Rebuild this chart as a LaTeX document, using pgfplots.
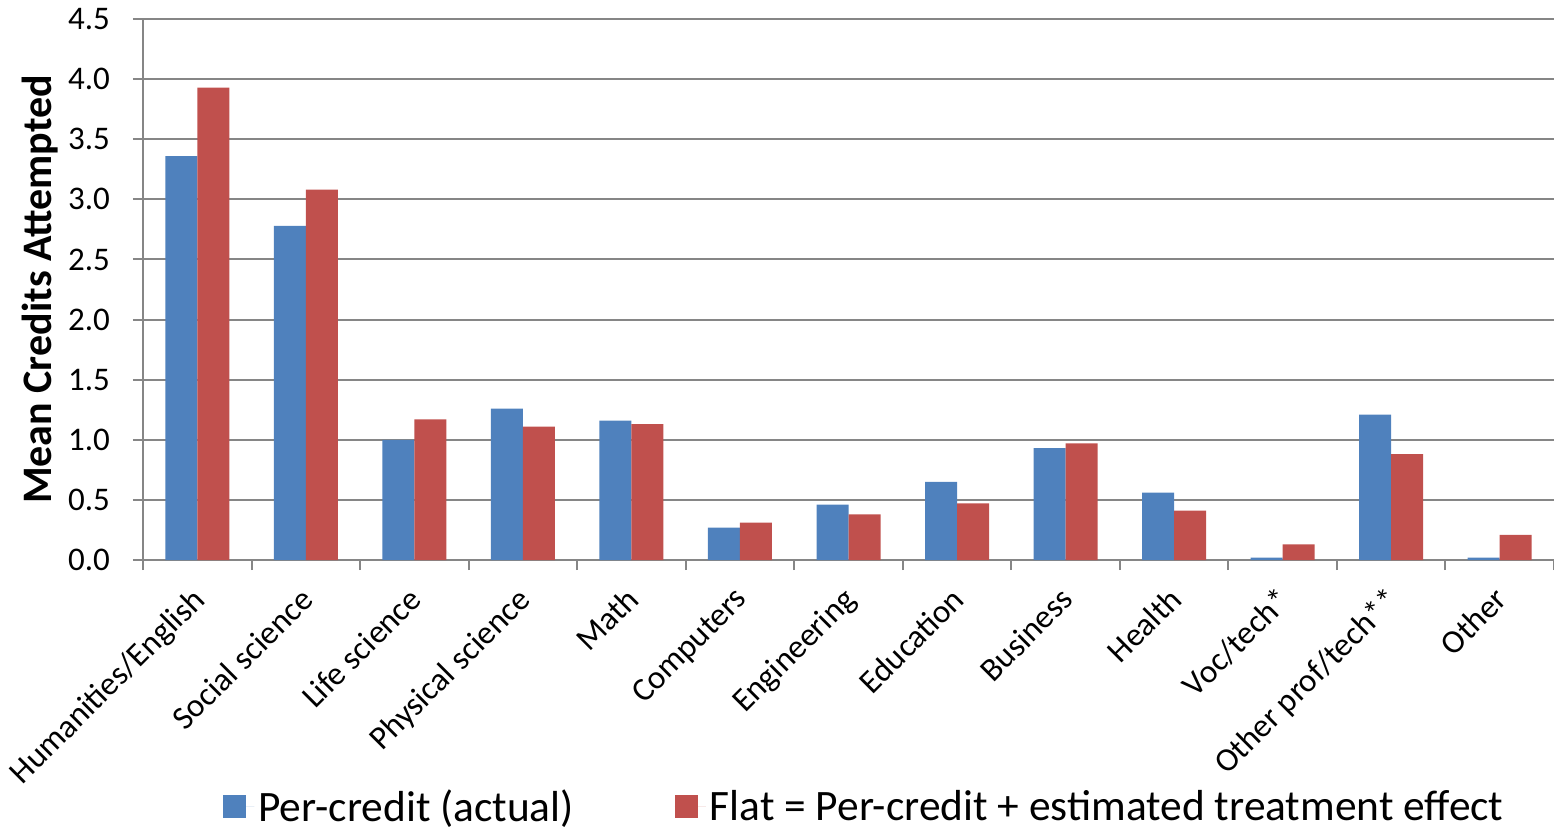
\documentclass[border=0pt]{standalone}
\usepackage{fontspec}
\setmainfont{Carlito}
\usepackage{pgfplots}
\pgfplotsset{compat=1.18}

\definecolor{percredit}{HTML}{4F81BD}
\definecolor{flat}{HTML}{C0504D}
\definecolor{gridgray}{RGB}{134,134,134}

\begin{document}
\begin{tikzpicture}
\begin{axis}[
  scale only axis,
  width=705.5pt, height=270.5pt,
  xmin=-0.5, xmax=12.5,
  ymin=0, ymax=4.5,
  ybar=0pt, bar width=16pt,
  axis x line*=bottom, axis y line*=left,
  axis line style={gridgray, line width=1pt},
  tick style={gridgray, line width=1pt},
  tick align=outside,
  major tick length=5pt,
  ymajorgrids,
  grid style={gridgray, line width=1pt},
  ytick={0,0.5,...,4.5},
  yticklabel style={/pgf/number format/fixed, /pgf/number format/fixed zerofill,
    /pgf/number format/precision=1, font=\fontsize{16.5}{18}\selectfont, xshift=-8pt},
  /pgf/number format/assume math mode=true,
  xtick={-0.5,0.5,1.5,2.5,3.5,4.5,5.5,6.5,7.5,8.5,9.5,10.5,11.5,12.5},
  x tick label as interval,
  xticklabels={Humanities/English, Social science, Life science, Physical science,
    Math, Computers, Engineering, Education, Business, Health, Voc/tech*,
    Other prof/tech**, Other},
  xticklabel style={xshift=-3.5pt, yshift=-7.5pt, rotate=45, anchor=north east,
    inner sep=0pt, font=\fontsize{16.5}{18}\selectfont},
  ylabel={\bfseries Mean Credits Attempted},
  ylabel style={font=\fontsize{21}{24}\selectfont, at={(axis description cs:-0.073,0.5)}, anchor=center},
  legend columns=2,
  legend style={at={(axis description cs:0.512,-0.456)}, anchor=center, draw=none,
    font=\fontsize{21.7}{24}\selectfont,
    /tikz/every even column/.append style={column sep=48.5pt}},
  legend image code/.code={%
    \path[#1] (0pt,-5.75pt) rectangle (11.5pt,5.75pt);
    \path (0pt,0pt) -- (15.5pt,0pt);},
]
% per-credit schools (actual)
\addplot[fill=percredit, draw=none] coordinates {
  (0,3.36) (1,2.78) (2,1.00) (3,1.26) (4,1.16) (5,0.27) (6,0.46)
  (7,0.65) (8,0.93) (9,0.56) (10,0.02) (11,1.21) (12,0.02)};
% flat-rate counterfactual
\addplot[fill=flat, draw=none] coordinates {
  (0,3.93) (1,3.08) (2,1.17) (3,1.11) (4,1.13) (5,0.31) (6,0.38)
  (7,0.47) (8,0.97) (9,0.41) (10,0.13) (11,0.88) (12,0.21)};
\legend{Per-credit (actual), Flat = Per-credit + estimated treatment effect}
\end{axis}
\pgfresetboundingbox
\path (-71.5pt,-134.5pt) rectangle (705.5pt,280pt);
\end{tikzpicture}
\end{document}
